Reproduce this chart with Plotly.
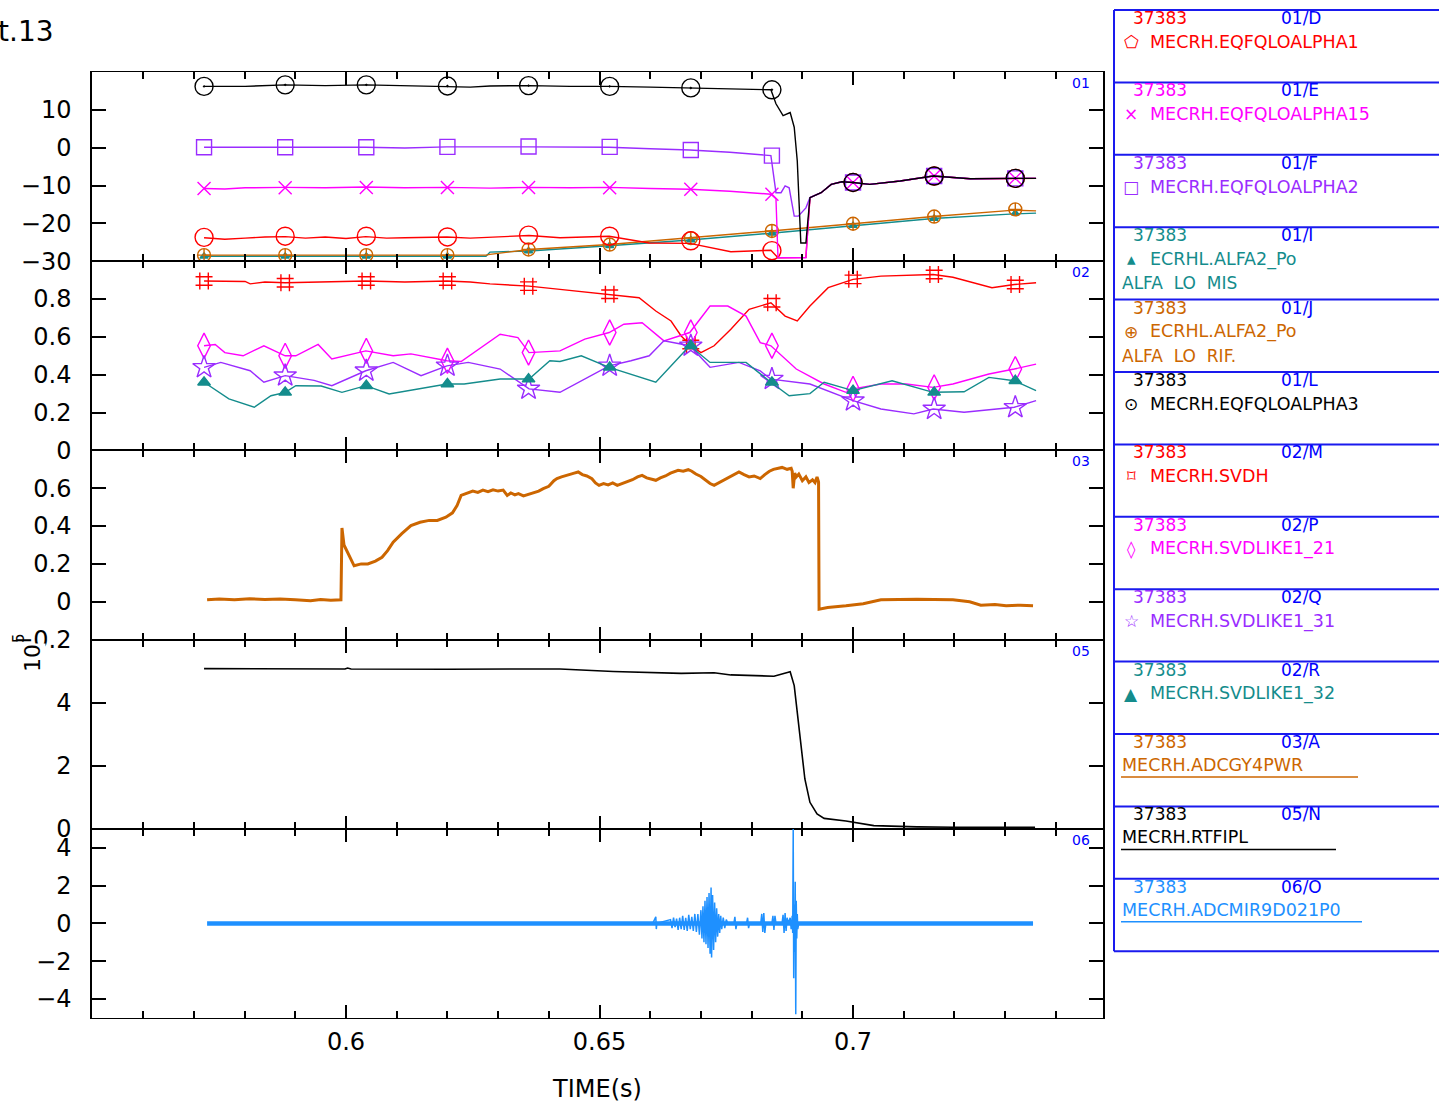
import plotly.graph_objects as go
from plotly.subplots import make_subplots

# ---------------- DATA ----------------
marker_t = [0.572, 0.588, 0.604, 0.620, 0.636, 0.652, 0.668, 0.684, 0.700, 0.716, 0.732]

# Panel 01
alpha3_t = [0.5720,0.5801,0.5880,0.5959,0.6039,0.6116,0.6199,0.6245,0.6284,0.6361,0.6442,0.6519,0.6600,0.6678,0.6757,0.6838,0.6848,0.6862,0.6876,0.6884,0.6890,0.6897,0.6907,0.6915,0.6937,0.6957,0.6978,0.7000,0.7033,0.7093,0.7158,0.7231,0.7318,0.7361]
alpha3_v = [16.2,16.2,16.6,16.4,16.6,16.4,16.3,16.0,16.3,16.4,16.2,16.2,16.0,15.8,15.7,15.3,11.6,8.5,9.3,5.4,-3.5,-25.2,-25.2,-13.2,-11.9,-9.7,-9.0,-9.2,-9.7,-8.8,-7.5,-8.2,-8.1,-8.1]
alpha3_m = [16.2,16.6,16.6,16.3,16.4,16.2,15.8,15.3,-9.2,-7.5,-8.1]

alpha2_t = [0.5720,0.5880,0.6039,0.6116,0.6199,0.6361,0.6519,0.6600,0.6678,0.6757,0.6838,0.6848,0.6858,0.6866,0.6874,0.6884,0.6892,0.6907,0.6915,0.6937,0.6957,0.6978,0.7000,0.7033,0.7093,0.7158,0.7231,0.7318,0.7361]
alpha2_v = [0.1,0.1,0.1,-0.1,0.2,0.2,0.1,-0.3,-0.6,-1.2,-2.1,-11.9,-11.9,-10.1,-10.6,-18.1,-18.1,-15.9,-13.2,-11.9,-9.7,-9.0,-9.2,-9.7,-8.8,-7.5,-8.2,-8.1,-8.1]
alpha2_m = [0.1,0.1,0.1,0.2,0.3,0.2,-0.6,-2.1,-9.2,-7.5,-8.1]

alpha15_t = [0.5720,0.5761,0.5801,0.5880,0.5959,0.6039,0.6116,0.6199,0.6284,0.6361,0.6442,0.6519,0.6600,0.6678,0.6757,0.6838,0.6848,0.6852,0.6907,0.6915,0.6937,0.6957,0.6978,0.7000,0.7033,0.7093,0.7158,0.7231,0.7318,0.7361]
alpha15_v = [-10.8,-10.9,-10.6,-10.5,-10.6,-10.4,-10.6,-10.5,-10.7,-10.5,-10.6,-10.5,-10.8,-11.0,-11.5,-12.3,-13.5,-29.1,-29.1,-13.2,-11.9,-9.7,-9.0,-9.2,-9.7,-8.8,-7.5,-8.2,-8.1,-8.1]
alpha15_m = [-10.8,-10.6,-10.5,-10.5,-10.5,-10.6,-11.0,-12.3,-9.2,-7.5,-8.1]

alpha1_t = [0.5720,0.5761,0.5801,0.5840,0.5880,0.5920,0.5959,0.6000,0.6039,0.6080,0.6116,0.6160,0.6199,0.6245,0.6284,0.6320,0.6361,0.6422,0.6519,0.6598,0.6678,0.6759,0.6838,0.6852,0.6907,0.6915,0.6937,0.6957,0.6978,0.7000,0.7033,0.7093,0.7158,0.7231,0.7318,0.7361]
alpha1_v = [-23.8,-24.2,-23.9,-23.6,-23.5,-23.9,-23.6,-24.0,-23.5,-23.9,-23.8,-23.7,-23.6,-23.9,-23.6,-23.4,-23.2,-23.8,-23.4,-25.2,-25.3,-27.5,-27.1,-29.1,-29.0,-13.2,-11.9,-9.7,-9.0,-9.2,-9.7,-8.8,-7.5,-8.2,-8.1,-8.1]
alpha1_m = [-23.7,-23.4,-23.4,-23.6,-23.1,-23.4,-24.6,-27.2,-9.2,-7.5,-8.1]

rif_t = [0.5720,0.6276,0.6284,0.6361,0.6519,0.6678,0.6838,0.7000,0.7158,0.7318,0.7361]
rif_v = [-28.4,-28.4,-28.2,-26.9,-25.6,-23.9,-22.0,-20.1,-18.2,-16.5,-16.7]
rif_m = [-28.4,-28.4,-28.4,-28.4,-26.9,-25.6,-23.9,-22.0,-20.1,-18.2,-16.3]

mis_t = [0.5720,0.6276,0.6284,0.6361,0.6519,0.6678,0.6838,0.7000,0.7158,0.7318,0.7361]
mis_v = [-28.7,-28.7,-27.6,-27.3,-25.9,-24.4,-22.6,-20.6,-18.7,-17.5,-17.3]
mis_m = [-28.7,-28.7,-28.7,-28.7,-27.3,-25.9,-24.4,-22.6,-20.6,-18.7,-17.3]

# Panel 02
svdh_t = [0.5720,0.5801,0.5811,0.5840,0.5880,0.5959,0.6039,0.6080,0.6116,0.6199,0.6245,0.6284,0.6361,0.6422,0.6521,0.6578,0.6611,0.6641,0.6661,0.6678,0.6700,0.6726,0.6759,0.6795,0.6838,0.6866,0.6890,0.6915,0.6951,0.7000,0.7055,0.7158,0.7197,0.7247,0.7274,0.7318,0.7361]
svdh_v = [0.895,0.893,0.88,0.89,0.886,0.89,0.895,0.893,0.89,0.895,0.89,0.88,0.868,0.851,0.825,0.807,0.737,0.684,0.605,0.56,0.517,0.553,0.64,0.746,0.78,0.71,0.684,0.763,0.86,0.904,0.921,0.93,0.915,0.877,0.86,0.877,0.886]
svdh_m = [0.895,0.886,0.895,0.895,0.868,0.825,0.56,0.78,0.904,0.93,0.877]

s21_t = [0.5720,0.5742,0.5761,0.5797,0.5838,0.5880,0.5901,0.5945,0.5972,0.6039,0.6093,0.6128,0.6199,0.6227,0.6304,0.6339,0.6361,0.6422,0.6471,0.6519,0.6548,0.6584,0.6627,0.6678,0.6718,0.6753,0.6789,0.6817,0.6838,0.6888,0.6943,0.6986,0.7000,0.7055,0.7105,0.7158,0.7197,0.7268,0.7318,0.7361]
s21_v = [0.553,0.56,0.517,0.5,0.553,0.5,0.5,0.56,0.483,0.526,0.5,0.51,0.474,0.47,0.614,0.596,0.517,0.526,0.588,0.623,0.667,0.675,0.579,0.623,0.763,0.763,0.71,0.57,0.553,0.43,0.351,0.307,0.325,0.351,0.351,0.333,0.351,0.404,0.43,0.456]
s21_m = [0.553,0.5,0.526,0.474,0.517,0.623,0.623,0.553,0.325,0.333,0.43]

s31_t = [0.5720,0.5753,0.5811,0.5838,0.5880,0.5937,0.5972,0.6039,0.6093,0.6148,0.6199,0.6241,0.6304,0.6339,0.6361,0.6422,0.6464,0.6519,0.6562,0.6598,0.6627,0.6678,0.6718,0.6775,0.6817,0.6838,0.6915,0.7000,0.7055,0.7120,0.7158,0.7219,0.7318,0.7361]
s31_v = [0.439,0.465,0.421,0.36,0.395,0.37,0.342,0.421,0.465,0.395,0.447,0.465,0.43,0.368,0.325,0.307,0.368,0.447,0.474,0.5,0.579,0.553,0.439,0.465,0.42,0.377,0.351,0.263,0.219,0.193,0.219,0.202,0.228,0.263]
s31_m = [0.439,0.395,0.421,0.447,0.325,0.447,0.553,0.377,0.263,0.219,0.228]

s32_t = [0.5720,0.5769,0.5819,0.5852,0.5880,0.5901,0.5951,0.5992,0.6039,0.6085,0.6199,0.6233,0.6304,0.6361,0.6402,0.6422,0.6464,0.6519,0.6611,0.6678,0.6718,0.6789,0.6838,0.6874,0.6915,0.6943,0.7000,0.7077,0.7158,0.7219,0.7268,0.7318,0.7361]
s32_v = [0.36,0.272,0.228,0.289,0.307,0.342,0.34,0.307,0.342,0.298,0.351,0.351,0.377,0.377,0.474,0.47,0.5,0.439,0.36,0.553,0.465,0.465,0.36,0.289,0.30,0.36,0.316,0.368,0.307,0.31,0.386,0.368,0.316]
s32_m = [0.36,0.307,0.342,0.351,0.377,0.439,0.553,0.36,0.316,0.307,0.368]

# Panel 03
pwr_t = [0.5726,0.575,0.578,0.581,0.584,0.587,0.590,0.593,0.595,0.597,0.5990,
         0.5992,0.5996,0.6003,0.6016,0.6030,0.6043,0.6058,0.6071,0.6082,0.6093,0.6110,0.6128,0.6146,0.6164,0.6180,0.6197,0.6210,0.6219,0.6227,
         0.6240,0.6250,0.6260,0.6270,0.6280,0.6290,0.6300,0.6310,0.6318,0.6325,0.6333,0.6340,0.6350,0.6361,0.6370,0.6380,0.6389,0.6400,0.6410,0.6416,
         0.6425,0.6433,0.6440,0.6450,0.6458,0.6466,0.6475,0.6485,0.6492,0.6499,0.6508,0.6517,0.6526,0.6535,0.6545,0.6555,0.6565,0.6575,0.6584,0.6593,
         0.6602,0.6611,0.6620,0.6630,0.6640,0.6648,0.6655,0.6665,0.6675,0.6682,0.6690,0.6700,0.6710,0.6718,0.6726,0.6735,0.6743,0.6750,0.6760,0.6768,
         0.6775,0.6785,0.6795,0.6805,0.6817,0.6826,0.6835,0.6843,0.6852,0.6860,0.6870,0.6878,0.6880,0.6882,0.6885,0.6888,0.6893,0.6900,0.6907,0.6913,
         0.6920,0.6925,0.6929,0.6932,0.6933,0.6950,0.6986,0.702,0.7055,0.7090,0.7126,0.716,0.7197,0.7230,0.7252,0.7280,0.7302,0.7330,0.7355]
pwr_v = [0.01,0.015,0.01,0.016,0.012,0.015,0.01,0.005,0.012,0.008,0.01,
         0.39,0.30,0.26,0.19,0.20,0.20,0.215,0.235,0.27,0.315,0.36,0.403,0.42,0.43,0.43,0.447,0.47,0.509,0.562,
         0.575,0.585,0.578,0.59,0.582,0.592,0.585,0.59,0.562,0.575,0.565,0.572,0.56,0.57,0.575,0.585,0.598,0.61,0.64,0.651,
         0.66,0.668,0.672,0.68,0.686,0.672,0.665,0.65,0.628,0.615,0.625,0.618,0.628,0.615,0.625,0.635,0.645,0.66,0.668,0.655,
         0.648,0.642,0.655,0.665,0.68,0.69,0.695,0.69,0.698,0.69,0.675,0.662,0.64,0.625,0.615,0.628,0.64,0.652,0.668,0.68,
         0.686,0.672,0.66,0.665,0.651,0.672,0.69,0.70,0.704,0.71,0.70,0.705,0.69,0.60,0.68,0.66,0.675,0.64,0.66,0.63,
         0.645,0.63,0.66,0.633,-0.039,-0.03,-0.021,-0.01,0.01,0.012,0.013,0.012,0.01,0.0,-0.018,-0.015,-0.021,-0.018,-0.021]

# Panel 05 (x 1e5)
rtf_t = [0.5720,0.5900,0.5998,0.6003,0.6010,0.6200,0.6422,0.6527,0.6600,0.6661,0.6726,0.6759,0.6844,0.6876,0.6884,0.6890,0.6897,0.6905,0.6915,0.6929,0.6943,0.6986,0.7041,0.7126,0.7200,0.7300,0.7359]
rtf_v = [5.08,5.08,5.07,5.10,5.07,5.06,5.07,4.99,4.97,4.93,4.95,4.88,4.84,4.98,4.54,3.69,2.63,1.58,0.84,0.47,0.33,0.25,0.10,0.06,0.05,0.06,0.05]

# Panel 06
mir_base_t = [0.5726, 0.7355]
mir_base_v = [0.0, 0.0]
mir_t = [0.6605,0.6611,0.6612,0.6613,0.6640,0.6643,0.6646,0.6649,0.6652,0.6655,0.6658,0.6661,0.6664,0.6667,0.6670,0.6673,0.6676,0.6679,0.6682,0.6685,0.6688,0.6691,0.6694,0.6697,
         0.6700,0.6702,0.6704,0.6706,0.6708,0.6710,0.6712,0.6714,0.6716,0.6718,0.6720,0.6721,0.6723,0.6725,0.6727,0.6729,0.6731,0.6733,0.6735,0.6737,0.6739,0.6741,0.6744,0.6747,0.6750,0.6753,
         0.6765,0.6767,0.6769,0.6771,0.6790,0.6792,0.6794,0.6796,0.6818,0.6820,0.6822,0.6824,0.6826,0.6828,0.6840,0.6842,0.6844,0.6846,0.6848,
         0.6860,0.6862,0.6864,0.6866,0.6868,0.6870,0.6872,0.6876,0.6878,0.6880,0.6881,0.6882,0.6883,0.6884,0.6885,0.6886,0.6887,0.6888,0.6889,0.6890,0.6891,0.6893]
mir_v = [0,0.35,-0.3,0,0.2,-0.25,0.3,-0.2,0.25,-0.35,0.3,-0.3,0.4,-0.35,0.3,-0.4,0.45,-0.3,0.35,-0.4,0.5,-0.45,0.5,-0.6,
         0.7,-0.8,0.9,-1.0,1.2,-1.1,1.4,-1.3,1.6,-1.6,1.9,-1.8,1.5,-1.4,1.1,-1.0,0.8,-0.7,0.5,-0.5,0.4,-0.3,0.3,-0.25,0.2,0.0,
         0,0.35,-0.3,0,0,0.3,-0.25,0,0,0.5,-0.45,0.55,-0.5,0,0,0.4,-0.35,0.4,0,
         0,0.45,-0.5,0.55,-0.4,0.3,0,0.3,-0.3,0.4,-0.5,5.0,-2.9,1.0,-1.5,2.2,-4.8,1.2,-0.8,0.5,-0.3,0]

x_major = [0.6, 0.65, 0.7]
x_minor = [0.56,0.57,0.58,0.59,0.61,0.62,0.63,0.64,0.66,0.67,0.68,0.69,0.71,0.72,0.73,0.74]

y_ranges = [[-30, 20], [0, 1], [-0.2, 0.8], [0, 6], [-5, 5]]
y_ticks = [[-30, -20, -10, 0, 10], [0, 0.2, 0.4, 0.6, 0.8], [-0.2, 0, 0.2, 0.4, 0.6], [0, 2, 4], [-4, -2, 0, 2, 4]]
panel_ids = ["01", "02", "03", "05", "06"]

shot = "37383"
legend_codes = ["01/D", "01/E", "01/F", "01/I", "01/J", "01/L", "02/M", "02/P", "02/Q", "02/R", "03/A", "05/N", "06/O"]
legend_names = ["MECRH.EQFQLOALPHA1", "MECRH.EQFQLOALPHA15", "MECRH.EQFQLOALPHA2", "ECRHL.ALFA2_Po", "ECRHL.ALFA2_Po",
                "MECRH.EQFQLOALPHA3", "MECRH.SVDH", "MECRH.SVDLIKE1_21", "MECRH.SVDLIKE1_31", "MECRH.SVDLIKE1_32",
                "MECRH.ADCGY4PWR", "MECRH.RTFIPL", "MECRH.ADCMIR9D021P0"]
legend_sub = ["", "", "", "ALFA  LO  MIS", "ALFA  LO  RIF.", "", "", "", "", "", "", "", ""]
legend_sym = ["⬠", "×", "□", "▴", "⊕", "⊙", "⌑", "◊", "☆", "▲", "", "", ""]

RED = "#ff0000"; MAG = "#ff00ff"; PUR = "#9a2cff"; TEAL = "#148c8c"; ORA = "#cc6600"; BLK = "#000000"; SKY = "#1e90ff"; BLUE = "#0000ff"
legend_colors = [RED, MAG, PUR, TEAL, ORA, BLK, RED, MAG, PUR, TEAL, ORA, BLK, SKY]

# ---------------- FIGURE ----------------
fig = make_subplots(rows=5, cols=1, shared_xaxes=True, vertical_spacing=0)

def line(t, v, color, row, width=1.4):
    fig.add_trace(go.Scatter(x=t, y=v, mode="lines", line=dict(color=color, width=width),
                             showlegend=False, hoverinfo="skip"), row=row, col=1)

def marks(t, v, color, symbol, size, row, lw=1.4):
    fig.add_trace(go.Scatter(x=t, y=v, mode="markers",
                             marker=dict(symbol=symbol, size=size, color=color, line=dict(color=color, width=lw)),
                             showlegend=False, hoverinfo="skip"), row=row, col=1)

# Panel 1
line(mis_t, mis_v, TEAL, 1); marks(marker_t, mis_m, TEAL, "triangle-up", 7, 1)
line(rif_t, rif_v, ORA, 1); marks(marker_t, rif_m, ORA, "circle-cross-open", 13, 1)
line(alpha1_t, alpha1_v, RED, 1); marks(marker_t, alpha1_m, RED, "circle-open", 18, 1)
line(alpha15_t, alpha15_v, MAG, 1); marks(marker_t, alpha15_m, MAG, "x-thin-open", 13, 1)
line(alpha2_t, alpha2_v, PUR, 1); marks(marker_t, alpha2_m, PUR, "square-open", 15, 1)
line(alpha3_t, alpha3_v, BLK, 1); marks(marker_t, alpha3_m, BLK, "circle-open-dot", 18, 1)

# Panel 2
line(svdh_t, svdh_v, RED, 2); marks(marker_t, svdh_m, RED, "hash-open", 17, 2)
line(s21_t, s21_v, MAG, 2); marks(marker_t, s21_m, MAG, "diamond-tall-open", 18, 2)
line(s31_t, s31_v, PUR, 2); marks(marker_t, s31_m, PUR, "star-open", 17, 2)
line(s32_t, s32_v, TEAL, 2); marks(marker_t, s32_m, TEAL, "triangle-up", 11, 2)

# Panel 3
line(pwr_t, pwr_v, ORA, 3, width=3)
# Panel 4
line(rtf_t, rtf_v, BLK, 4, width=1.6)
# Panel 5
line(mir_base_t, mir_base_v, SKY, 5, width=4.5)
line(mir_t, mir_v, SKY, 5, width=1.5)

FONT = "DejaVu Sans"
for i in range(5):
    r = i + 1
    fig.update_xaxes(range=[0.5499, 0.7493], showline=True, linecolor="black", linewidth=1, mirror="ticks",
                     ticks="inside", ticklen=13, tickwidth=1.5, tickcolor="black", tickmode="array",
                     tickvals=x_major, showgrid=False, zeroline=False, automargin=False,
                     minor=dict(tickmode="array", tickvals=x_minor, ticks="inside", ticklen=7,
                                tickwidth=1.5, tickcolor="black", showgrid=False),
                     tickfont=dict(family=FONT, size=24, color="black"), row=r, col=1)
    fig.update_yaxes(range=y_ranges[i], tickmode="array", tickvals=y_ticks[i], showline=True,
                     linecolor="black", linewidth=1.5, mirror="ticks", ticks="inside", ticklen=14,
                     tickwidth=1.5, tickcolor="black", showgrid=False, zeroline=False, automargin=False,
                     ticklabelstandoff=14,
                     tickfont=dict(family=FONT, size=24, color="black"), row=r, col=1)
fig.update_xaxes(showticklabels=True, ticklabelstandoff=2,
                 title=dict(text="TIME(s)", font=dict(family=FONT, size=24, color="black"), standoff=25), row=5, col=1)

# pixel helpers for annotations / shapes
L, R, T, B = 92, 1103, 72, 1018
def px(x): return (x - L) / (R - L)
def py(y): return (B - y) / (B - T)

ann = []
panel_tops = [72, 261, 450, 640, 829]
for pid, top in zip(panel_ids, panel_tops):
    ann.append(dict(x=px(1092), y=py(top + 11), xref="paper", yref="paper", text=pid, showarrow=False,
                    xanchor="right", yanchor="middle", font=dict(family=FONT, size=14, color=BLUE)))

ann.append(dict(x=px(-4), y=py(32), xref="paper", yref="paper", text="t.13", showarrow=False,
                xanchor="left", yanchor="middle", font=dict(family=FONT, size=28, color="black")))
# 10^5 exponent label (rotated)
ann.append(dict(x=px(32), y=py(658), xref="paper", yref="paper", text="10", showarrow=False, bgcolor="white",
                textangle=-90, xanchor="center", yanchor="middle", borderpad=0,
                font=dict(family=FONT, size=22, color="black")))
ann.append(dict(x=px(19), y=py(638), xref="paper", yref="paper", text="5", showarrow=False,
                textangle=-90, xanchor="center", yanchor="middle",
                font=dict(family=FONT, size=15, color="black")))

shapes = []
leg_lines = [10 + 72.4 * k for k in range(14)]
shapes.append(dict(type="line", xref="paper", yref="paper", x0=px(1114), x1=px(1114), y0=py(10), y1=py(leg_lines[-1]),
                   line=dict(color="#1a1aee", width=2)))
for yl in leg_lines:
    shapes.append(dict(type="line", xref="paper", yref="paper", x0=px(1114), x1=px(1445), y0=py(yl), y1=py(yl),
                       line=dict(color="#1a1aee", width=2)))

underline_end = {10: 1358, 11: 1336, 12: 1362}
for k in range(13):
    y0 = leg_lines[k]
    c = legend_colors[k]
    ann.append(dict(x=px(1131), y=py(y0 + 8), xref="paper", yref="paper", text=shot, showarrow=False,
                    xanchor="left", yanchor="middle", font=dict(family=FONT, size=17, color=c)))
    ann.append(dict(x=px(1279), y=py(y0 + 8), xref="paper", yref="paper", text=legend_codes[k], showarrow=False,
                    xanchor="left", yanchor="middle", font=dict(family=FONT, size=17, color=BLUE)))
    if legend_sym[k]:
        ann.append(dict(x=px(1131), y=py(y0 + 32), xref="paper", yref="paper", text=legend_sym[k], showarrow=False,
                        xanchor="center", yanchor="middle", font=dict(family=FONT, size=17, color=c)))
        ann.append(dict(x=px(1148), y=py(y0 + 32), xref="paper", yref="paper", text=legend_names[k], showarrow=False,
                        xanchor="left", yanchor="middle", font=dict(family=FONT, size=17.5, color=c)))
    else:
        ann.append(dict(x=px(1120), y=py(y0 + 31), xref="paper", yref="paper", text=legend_names[k], showarrow=False,
                        xanchor="left", yanchor="middle", font=dict(family=FONT, size=17.5, color=c)))
        shapes.append(dict(type="line", xref="paper", yref="paper", x0=px(1121), x1=px(underline_end[k]),
                           y0=py(y0 + 43), y1=py(y0 + 43), line=dict(color=c, width=1.5)))
    if legend_sub[k]:
        ann.append(dict(x=px(1120), y=py(y0 + 56), xref="paper", yref="paper", text=legend_sub[k], showarrow=False,
                        xanchor="left", yanchor="middle", font=dict(family=FONT, size=17, color=c)))

fig.update_layout(width=1439, height=1106, margin=dict(l=L, r=1439 - R, t=T, b=1106 - B, autoexpand=False),
                  paper_bgcolor="white", plot_bgcolor="white", showlegend=False,
                  annotations=ann, shapes=shapes, font=dict(family=FONT))

fig.write_html("out.html", config={"displayModeBar": False},
               post_script="document.body.style.margin='0px';document.body.style.overflow='hidden';")
